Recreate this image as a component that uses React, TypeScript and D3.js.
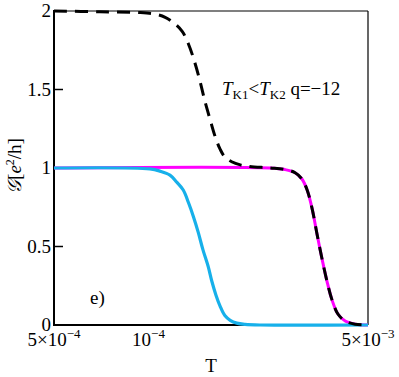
import React from 'react';
import * as d3 from 'd3';

// curves: temperature T and conductance G (in e^2/h)
const blueT = [5e-4, 1.01e-3, 1.088e-3, 1.17e-3, 1.23e-3, 1.29e-3, 1.34e-3, 1.39e-3, 1.44e-3, 1.49e-3, 1.55e-3, 1.59e-3, 1.64e-3, 1.69e-3, 1.75e-3, 1.82e-3, 1.91e-3, 2.03e-3, 2.27e-3, 5e-3];
const blueG = [1.0, 0.994, 0.98, 0.955, 0.91, 0.86, 0.78, 0.69, 0.59, 0.48, 0.37, 0.28, 0.19, 0.12, 0.06, 0.03, 0.012, 0.004, 0.0, 0.0];

const magentaT = [5e-4, 2.44e-3, 2.72e-3, 2.93e-3, 3.08e-3, 3.20e-3, 3.32e-3, 3.44e-3, 3.57e-3, 3.70e-3, 3.84e-3, 4.01e-3, 4.23e-3, 4.55e-3, 5e-3];
const magentaG = [1.0, 1.0, 0.99, 0.97, 0.93, 0.86, 0.74, 0.58, 0.42, 0.28, 0.16, 0.07, 0.025, 0.005, 0.0];

const blackT = [5e-4, 7.0e-4, 9.39e-4, 1.05e-3, 1.13e-3, 1.21e-3, 1.28e-3, 1.34e-3, 1.40e-3, 1.46e-3, 1.51e-3, 1.57e-3, 1.63e-3, 1.69e-3, 1.75e-3, 1.84e-3, 1.96e-3, 2.10e-3, 2.44e-3, 2.72e-3, 2.93e-3, 3.08e-3, 3.20e-3, 3.32e-3, 3.44e-3, 3.57e-3, 3.70e-3, 3.84e-3, 4.01e-3, 4.23e-3, 4.55e-3, 5e-3];
const blackG = [2.0, 1.995, 1.99, 1.98, 1.96, 1.92, 1.87, 1.79, 1.68, 1.55, 1.43, 1.31, 1.20, 1.12, 1.07, 1.04, 1.02, 1.01, 1.0, 0.99, 0.97, 0.93, 0.86, 0.74, 0.58, 0.42, 0.28, 0.16, 0.07, 0.025, 0.005, 0.0];

const yTicks = [0, 0.5, 1, 1.5, 2];
const yTickLabels = ['0', '0.5', '1', '1.5', '2'];
const xTickValues = [5e-4, 1e-3, 5e-3];
const xTickMantissa = ['5×10', '10', '5×10'];
const xTickExponent = ['−4', '−4', '−3'];

const W = 399;
const H = 377;
const margin = { left: 54, right: 31, top: 11, bottom: 52 };
const FONT = 'Liberation Serif';

function App() {
    const x = d3
        .scaleLog()
        .domain([5e-4, 5e-3])
        .range([margin.left, W - margin.right]);
    const y = d3
        .scaleLinear()
        .domain([0, 2])
        .range([H - margin.bottom, margin.top]);

    const line = d3
        .line<number>()
        .x((d) => x(d))
        .curve(d3.curveCatmullRom.alpha(0.5));

    const path = (ts: number[], gs: number[]) =>
        line.y((d, i) => y(gs[i]))(ts) || '';

    const x0 = x.range()[0];
    const x1 = x.range()[1];
    const yb = y(0);
    const yt = y(2);

    return (
        <svg
            width={W}
            height={H}
            style={{ position: 'absolute', left: 0, top: 0, background: '#fff' }}
        >
            {/* frame */}
            <line x1={x0} x2={x1} y1={yt} y2={yt} stroke="#000" strokeWidth={1.2} />
            <line x1={x1} x2={x1} y1={yt} y2={yb} stroke="#000" strokeWidth={1.2} />
            <line x1={x0} x2={x1} y1={yb} y2={yb} stroke="#000" strokeWidth={2} />
            <line x1={x0} x2={x0} y1={yt - 1} y2={yb + 1} stroke="#000" strokeWidth={2} />

            {yTicks.map((t, i) => (
                <g key={t}>
                    <line x1={x0} x2={x0 + 9} y1={y(t)} y2={y(t)} stroke="#000" strokeWidth={1.5} />
                    <text x={x0 - 3} y={y(t) + 6} textAnchor="end" fontSize={19} fontFamily={FONT}>
                        {yTickLabels[i]}
                    </text>
                </g>
            ))}

            {xTickValues.map((t, i) => (
                <text key={i} x={x(t)} y={346} textAnchor="middle" fontSize={19} fontFamily={FONT}>
                    {xTickMantissa[i]}
                    <tspan fontSize={13} dy={-8}>
                        {xTickExponent[i]}
                    </tspan>
                </text>
            ))}

            <text x={211} y={372} textAnchor="middle" fontSize={19} fontFamily={FONT}>
                T
            </text>

            <text
                transform="translate(21, 166) rotate(-90)"
                textAnchor="middle"
                fontSize={19}
                fontFamily={FONT}
            >
                <tspan fontStyle="italic">𝒢</tspan>
                <tspan>[</tspan>
                <tspan fontStyle="italic">e</tspan>
                <tspan fontSize={12} dy={-7}>2</tspan>
                <tspan dy={7}>/h]</tspan>
            </text>

            <path d={path(magentaT, magentaG)} fill="none" stroke="#ff00ff" strokeWidth={3} />
            <path d={path(blueT, blueG)} fill="none" stroke="#17b0ea" strokeWidth={3.2} />
            <path
                d={path(blackT, blackG)}
                fill="none"
                stroke="#000"
                strokeWidth={3}
                strokeDasharray="13 8"
            />

            <text x={222} y={95} fontSize={19} fontFamily={FONT}>
                <tspan fontStyle="italic">T</tspan>
                <tspan fontSize={13} dy={4}>K1</tspan>
                <tspan dy={-4}>&lt;</tspan>
                <tspan fontStyle="italic">T</tspan>
                <tspan fontSize={13} dy={4}>K2</tspan>
                <tspan dy={-4}> q=−12</tspan>
            </text>

            <text x={90} y={304} fontSize={19} fontFamily={FONT}>
                e)
            </text>
        </svg>
    );
}

export default App;
